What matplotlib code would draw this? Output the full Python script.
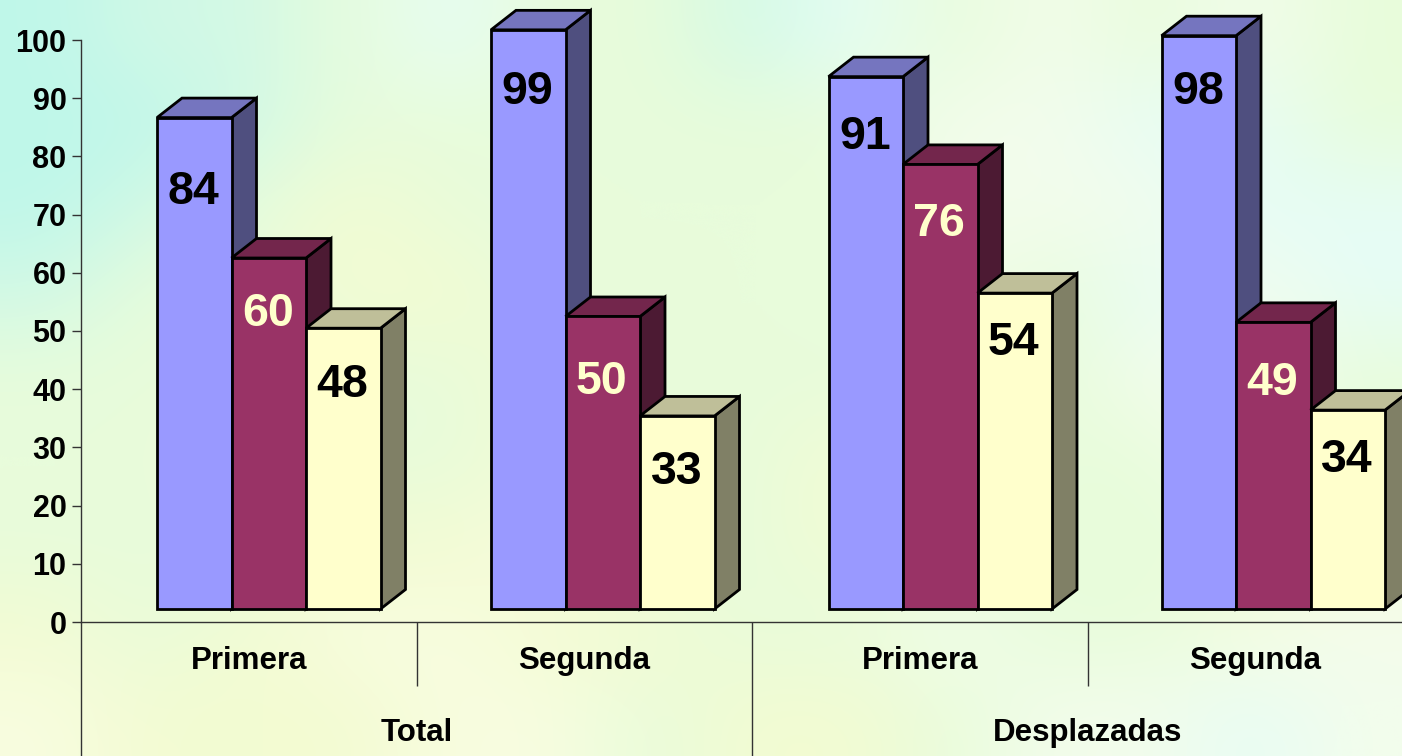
import matplotlib
matplotlib.use("Agg")
import matplotlib.pyplot as plt
import numpy as np
from matplotlib.colors import to_rgb
from matplotlib.patches import Polygon

# data
groups = ["Total", "Desplazadas"]
rounds = ["Primera", "Segunda", "Primera", "Segunda"]
blue_vals = [84, 99, 91, 98]
red_vals = [60, 50, 76, 49]
yellow_vals = [48, 33, 54, 34]
y_ticks = list(range(0, 101, 10))

plt.rcParams["font.family"] = ["Liberation Sans", "DejaVu Sans"]
plt.rcParams["font.weight"] = "bold"

W, H = 1402, 756
fig = plt.figure(figsize=(W / 100, H / 100), dpi=100)

# background texture, hand picked patches
swatch = {"c": "#bff7ea", "d": "#d2f9e6", "g": "#e8fcdb", "y": "#f3fbd2",
          "w": "#f3fdec", "b": "#e6fdf6", "l": "#f8fde0"}
bg_rows = ["cddgbggdbgwgwg",
           "ccdggggggwwbbg",
           "cdgygggggwwwbb",
           "dggyyggggwgbwb",
           "gggggygggggwwg",
           "ggyggyggywggwg",
           "gggyylggyggggl",
           "ygyllyyggwgglw",
           "lyyyllgyygwwbw"]
bg = np.array([[to_rgb(swatch[ch]) for ch in row] for row in bg_rows])
bg_ax = fig.add_axes([0, 0, 1, 1], zorder=0)
bg_ax.imshow(bg, aspect="auto", interpolation="bicubic")
bg_ax.axis("off")

# axes: left edge at x=81, zero at y=622, 100 at y=40
cat_px = 335.5
val_px = 5.82
ax = fig.add_axes([81 / W, 1 - 622 / H, (W - 81) / W, (622 - 40) / H], zorder=1)
ax.patch.set_alpha(0)
ax.set_xlim(0, (W - 81) / cat_px)
ax.set_ylim(0, 100)

for s in ["top", "right"]:
    ax.spines[s].set_visible(False)
for s in ["left", "bottom"]:
    ax.spines[s].set_color("#333333")
    ax.spines[s].set_linewidth(1)
ax.set_yticks(y_ticks)
ax.tick_params(axis="y", length=6.5, width=1, color="#333333", pad=4, labelsize=22)
ax.set_xticks([])


def dy(px):
    return px / val_px


def dx(px):
    return px / cat_px


depth_x = dx(25)
depth_y = dy(19.5)
base = dy(13)
bar_w = dx(74.5)
front_scale = 5.85 / val_px
series = [
    (blue_vals, "#9999ff", "#7575bf", "#4f4f7f", "black"),
    (red_vals, "#993366", "#73264c", "#4c1a33", "#ffffcc"),
    (yellow_vals, "#ffffcc", "#bfbf99", "#808066", "black"),
]
group_left = [dx(76), 1 + dx(74.5), 2 + dx(76.5), 3 + dx(74)]
# how far below the bar top each number sits (px)
label_drop = [[69, 51, 52], [57, 60, 51], [55, 55, 45], [51, 56, 45]]

z = 2
for g in range(4):
    for i, (vals, face, top, side, txt) in enumerate(series):
        x0 = group_left[g] + i * bar_w
        h = vals[g] * front_scale
        y1 = base + h
        x1 = x0 + bar_w
        ax.add_patch(Polygon([(x1, base), (x1 + depth_x, base + depth_y),
                              (x1 + depth_x, y1 + depth_y), (x1, y1)],
                             fc=side, ec="black", lw=2, zorder=z, clip_on=False, joinstyle="miter"))
        ax.add_patch(Polygon([(x0, y1), (x0 + depth_x, y1 + depth_y),
                              (x1 + depth_x, y1 + depth_y), (x1, y1)],
                             fc=top, ec="black", lw=2, zorder=z, clip_on=False, joinstyle="miter"))
        ax.bar(x0, h, bar_w, bottom=base, align="edge", color=face,
               edgecolor="black", linewidth=2, zorder=z, clip_on=False)
        ax.text(x0 + bar_w / 2 - dx(1), y1 - dy(label_drop[g][i]), str(vals[g]),
                color=txt, fontsize=33.5, ha="center", va="center_baseline",
                zorder=z + 1, clip_on=False)
        z += 2

# multi level category axis below zero
row1 = dy(-64)
row2 = dy(-134)
ax.vlines([1, 3], row1, 0, color="#333333", lw=1, clip_on=False)
ax.vlines([0, 2], row2, 0, color="#333333", lw=1, clip_on=False)
for g, name in enumerate(rounds):
    ax.text(g + 0.5, dy(-39), name, fontsize=22.5, ha="center", va="center",
            clip_on=False)
for g, name in enumerate(groups):
    ax.text(2 * g + 1, dy(-111), name, fontsize=22.5, ha="center", va="center",
            clip_on=False)

fig.savefig("out.png", dpi=100)
